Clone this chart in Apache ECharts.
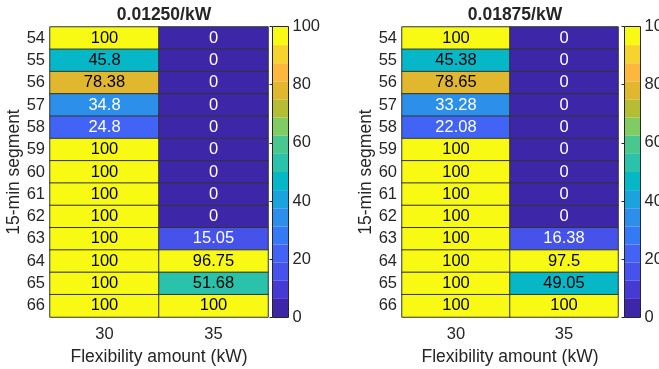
<!DOCTYPE html>
<html>
<head>
<meta charset="utf-8">
<script src="https://cdn.jsdelivr.net/npm/echarts@6/dist/echarts.min.js"></script>
<style>
html,body{margin:0;padding:0;background:#fff;}
#chart{width:659px;height:369px;}
</style>
</head>
<body>
<div id="chart"></div>
<script>
// ---- data ----
const segments = ['54','55','56','57','58','59','60','61','62','63','64','65','66'];
const flexAmounts = ['30','35'];
const titles = ['0.01250/kW', '0.01875/kW'];
const rateA_30 = [100, 45.8, 78.38, 34.8, 24.8, 100, 100, 100, 100, 100, 100, 100, 100];
const rateA_35 = [0, 0, 0, 0, 0, 0, 0, 0, 0, 15.05, 96.75, 51.68, 100];
const rateB_30 = [100, 45.38, 78.65, 33.28, 22.08, 100, 100, 100, 100, 100, 100, 100, 100];
const rateB_35 = [0, 0, 0, 0, 0, 0, 0, 0, 0, 16.38, 97.5, 49.05, 100];
const colorbarTicks = [0, 20, 40, 60, 80, 100];
// parula, 16 levels
const parula16 = ['#3E26A8','#4739D4','#4653EA','#4164F6','#3479F5','#2C8FEA','#1BA3DD','#06B8C7',
                  '#2AC2AA','#4AC78F','#80CB62','#B5BD33','#E1B72E','#FCB73C','#F6D42B','#F9FA14'];

const FONT = '"Liberation Sans", Arial, Helvetica, sans-serif';
const AX = '#262626';
const FS = 16.5;

function cells(c30, c35) {
  const d = [];
  segments.forEach((s, i) => { d.push([0, i, c30[i]]); d.push([1, i, c35[i]]); });
  return d;
}
function pieces() {
  const step = 100 / parula16.length;
  return parula16.map((c, i) => {
    const p = { gte: i * step, color: c };
    if (i === parula16.length - 1) p.lte = 100; else p.lt = (i + 1) * step;
    return p;
  });
}

const panels = [
  { left: 50, width: 218, cbLeft: 273, data: cells(rateA_30, rateA_35), title: titles[0] },
  { left: 402, width: 216, cbLeft: 625, data: cells(rateB_30, rateB_35), title: titles[1] }
];
const TOP = 27, H = 290;

const option = {
  animation: false,
  textStyle: { fontFamily: FONT },
  title: [], grid: [], xAxis: [], yAxis: [], series: [], visualMap: []
};

panels.forEach((p, k) => {
  option.title.push({
    text: p.title, left: p.left + p.width / 2, top: 1, textAlign: 'center',
    textStyle: { fontFamily: FONT, fontSize: 17.5, fontWeight: 'bold', color: AX }
  });
  option.grid.push({ left: p.left, top: TOP, width: p.width, height: H, outerBoundsMode: 'none', containLabel: false });
  option.grid.push({ left: p.cbLeft - 0.5, top: TOP - 0.5, width: 16, height: H + 1,
    show: true, borderColor: AX, borderWidth: 1, backgroundColor: 'transparent',
    outerBoundsMode: 'none', containLabel: false });

  const gH = k * 2, gC = k * 2 + 1;
  option.xAxis.push({
    type: 'category', data: flexAmounts, gridIndex: gH,
    axisLine: { show: false }, axisTick: { show: false }, splitLine: { show: false },
    axisLabel: { color: AX, fontSize: FS, fontFamily: FONT, margin: 9 },
    name: 'Flexibility amount (kW)', nameLocation: 'middle', nameGap: 29,
    nameTextStyle: { color: AX, fontSize: 17.5, fontFamily: FONT }
  });
  option.yAxis.push({
    type: 'category', data: segments, gridIndex: gH, inverse: true,
    axisLine: { show: false }, axisTick: { show: false }, splitLine: { show: false },
    axisLabel: { color: AX, fontSize: FS, fontFamily: FONT, margin: 5 },
    name: '15-min segment', nameLocation: 'middle', nameGap: 26,
    nameTextStyle: { color: AX, fontSize: 17.5, fontFamily: FONT }
  });
  option.xAxis.push({ type: 'value', gridIndex: gC, show: false, min: 0, max: 1 });
  option.yAxis.push({
    type: 'value', gridIndex: gC, position: 'right', min: colorbarTicks[0],
    max: colorbarTicks[colorbarTicks.length - 1], interval: 20,
    axisLine: { show: false }, splitLine: { show: false },
    axisTick: { show: true, inside: true, length: 3, lineStyle: { color: AX } },
    axisLabel: { color: AX, fontSize: FS, fontFamily: FONT, margin: 4 }
  });

  option.series.push({
    type: 'heatmap', xAxisIndex: gH, yAxisIndex: gH, data: p.data,
    itemStyle: { borderColor: '#333333', borderWidth: 1 },
    label: {
      show: true, fontSize: FS, fontFamily: FONT,
      formatter: q => (q.value[2] < 40 ? '{w|' : '{b|') + q.value[2] + '}',
      rich: { w: { color: '#ffffff', fontSize: FS, fontFamily: FONT },
              b: { color: '#000000', fontSize: FS, fontFamily: FONT } }
    },
    emphasis: { disabled: true }
  });

  option.visualMap.push({
    type: 'piecewise', seriesIndex: k, pieces: pieces(), orient: 'vertical',
    left: p.cbLeft, top: TOP, itemWidth: 15, itemHeight: H / parula16.length,
    itemGap: 0, showLabel: false, selectedMode: false, padding: 0, hoverLink: false,
    itemSymbol: 'rect'
  });
});

const chart = echarts.init(document.getElementById('chart'), null, { renderer: 'canvas' });
chart.setOption(option);
</script>
</body>
</html>
